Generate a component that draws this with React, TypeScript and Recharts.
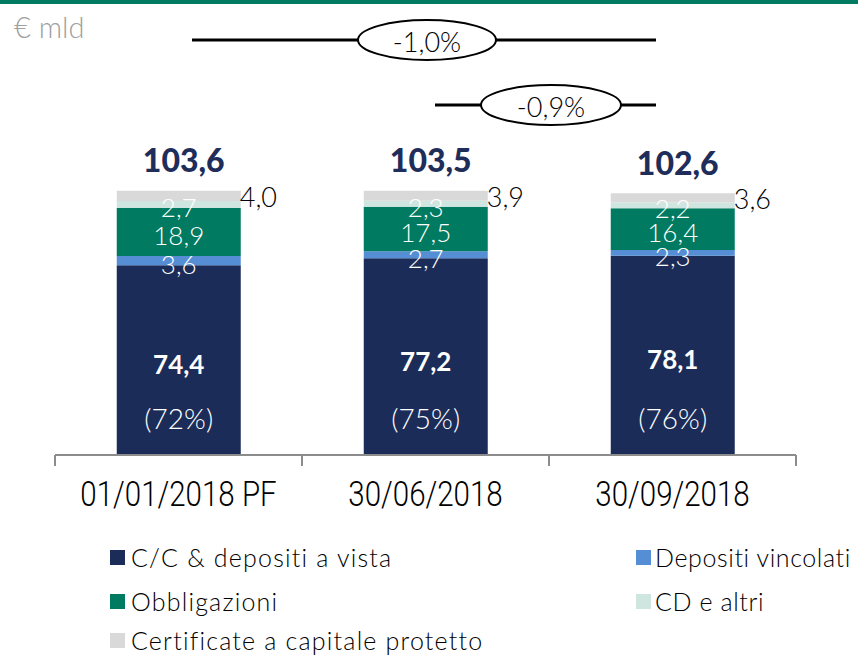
import { BarChart, Bar, XAxis, YAxis, LabelList } from 'recharts'

const categories = ['01/01/2018 PF', '30/06/2018', '30/09/2018']
const ccDepositi = [74.4, 77.2, 78.1]
const depVincolati = [3.6, 2.7, 2.3]
const obbligazioni = [18.9, 17.5, 16.4]
const cdAltri = [2.7, 2.3, 2.2]
const certificati = [4.0, 3.9, 3.6]
const totals = [103.6, 103.5, 102.6]
const ccShare = [72, 75, 76]
const growth = ['-1,0%', '-0,9%']

const COLORS = {
  cc: '#1c2c59',
  vinc: '#558ed5',
  obbl: '#007a60',
  cd: '#cfe5e0',
  cert: '#d9d9d9',
}

const FONT = 'Lato, "Noto Sans", sans-serif'

const series = [
  { key: 'cc', name: 'C/C & depositi a vista', color: COLORS.cc },
  { key: 'vinc', name: 'Depositi vincolati', color: COLORS.vinc },
  { key: 'obbl', name: 'Obbligazioni', color: COLORS.obbl },
  { key: 'cd', name: 'CD e altri', color: COLORS.cd },
  { key: 'cert', name: 'Certificate a capitale protetto', color: COLORS.cert },
]

const data = categories.map((name, i) => ({
  name,
  cc: ccDepositi[i],
  vinc: depVincolati[i],
  obbl: obbligazioni[i],
  cd: cdAltri[i],
  cert: certificati[i],
  total: totals[i],
  share: ccShare[i],
}))

const fmt = (v: number) => v.toFixed(1).replace('.', ',')

// white number centred on its segment (slightly lowered, like the original)
const inBarLabel = (props: any) => {
  const { x, y, width, height, value } = props
  return (
    <text x={x + width / 2} y={y + height / 2 + 3} textAnchor="middle" dominantBaseline="central"
      fill="#fff" fontSize={26} fontFamily={FONT} fontWeight={300}>
      {fmt(Number(value))}
    </text>
  )
}

const certLabel = (props: any) => {
  const { x, y, width, height, value } = props
  return (
    <text x={x + width - 1} y={y + height / 2 + 1} textAnchor="start" dominantBaseline="central"
      fill="#000" fontSize={27} fontFamily={FONT} fontWeight={300}>
      {fmt(Number(value))}
    </text>
  )
}

const totalLabel = (props: any) => {
  const { x, y, width, value } = props
  return (
    <text x={x + width / 2 + 5} y={y - 31} textAnchor="middle" dominantBaseline="central"
      fill="#1f2d5a" fontSize={32} fontFamily={FONT} fontWeight={900}>
      {fmt(Number(value))}
    </text>
  )
}

const ccValueLabel = (props: any) => {
  const { x, y, width, height, value } = props
  return (
    <text x={x + width / 2} y={y + height / 2 + 4} textAnchor="middle" dominantBaseline="central"
      fill="#fff" fontSize={26} fontFamily={FONT} fontWeight={700}>
      {fmt(Number(value))}
    </text>
  )
}

const ccShareLabel = (props: any) => {
  const { x, y, width, height, value } = props
  return (
    <text x={x + width / 2} y={y + height - 37} textAnchor="middle" dominantBaseline="central"
      fill="#fff" fontSize={28} fontFamily={FONT} fontWeight={300}>
      ({value}%)
    </text>
  )
}

// category label plus the separators between the categories
const AxisTick = (props: any) => {
  const { x, y, payload, index } = props
  const half = payload?.offset || 123.5
  const last = index === categories.length - 1
  return (
    <g>
      <line x1={x - half} x2={x - half} y1={y} y2={y + 11} stroke="#8c8c8c" strokeWidth={2} />
      {last && <line x1={x + half} x2={x + half} y1={y} y2={y + 11} stroke="#8c8c8c" strokeWidth={2} />}
      <text transform={`translate(${x},${y + 38}) scale(0.82,1)`} textAnchor="middle" dominantBaseline="central"
        fill="#000" fontSize={36} fontWeight={300} fontFamily='Roboto, sans-serif'>
        {payload.value}
      </text>
    </g>
  )
}

function GrowthBadge({ x1, x2, y, cx, rx, ry, label }: any) {
  return (
    <g>
      <line x1={x1} x2={x2} y1={y} y2={y} stroke="#000" strokeWidth={3} />
      <ellipse cx={cx} cy={y} rx={rx} ry={ry} fill="#fff" stroke="#000" strokeWidth={2} />
      <text x={cx} y={y + 1} textAnchor="middle" dominantBaseline="central" fontSize={27}
        fontFamily={FONT} fontWeight={300} fill="#000">
        {label}
      </text>
    </g>
  )
}

export default function App() {
  return (
    <div style={{ position: 'absolute', left: 0, top: 0, width: 858, height: 656, background: '#fff', overflow: 'hidden' }}>
      <BarChart width={858} height={656} data={data}
        margin={{ top: 149, right: 62, bottom: 141, left: 55 }} barCategoryGap="25%">
        <YAxis hide domain={[0, 120]} />
        <XAxis dataKey="name" height={60} tickLine={false} tickSize={0} tickMargin={0}
          axisLine={{ stroke: '#8c8c8c', strokeWidth: 2 }} tick={<AxisTick />} interval={0} />
        <Bar dataKey="cc" stackId="a" fill={COLORS.cc} isAnimationActive={false}>
          <LabelList dataKey="cc" content={ccValueLabel} />
          <LabelList dataKey="share" content={ccShareLabel} />
        </Bar>
        <Bar dataKey="vinc" stackId="a" fill={COLORS.vinc} isAnimationActive={false}>
          <LabelList dataKey="vinc" content={inBarLabel} />
        </Bar>
        <Bar dataKey="obbl" stackId="a" fill={COLORS.obbl} isAnimationActive={false}>
          <LabelList dataKey="obbl" content={inBarLabel} />
        </Bar>
        <Bar dataKey="cd" stackId="a" fill={COLORS.cd} isAnimationActive={false}>
          <LabelList dataKey="cd" content={inBarLabel} />
        </Bar>
        <Bar dataKey="cert" stackId="a" fill={COLORS.cert} isAnimationActive={false}>
          <LabelList dataKey="cert" content={certLabel} />
          <LabelList dataKey="total" content={totalLabel} />
        </Bar>
      </BarChart>

      {/* header: green rule, unit and growth badges */}
      <svg width={858} height={140} style={{ position: 'absolute', left: 0, top: 0 }}>
        <rect x={0} y={0} width={858} height={4} fill="#007a60" />
        <text x={14} y={38} fontSize={29} fontFamily={FONT} fontWeight={300} fill="#a0a0a0">€ mld</text>
        <GrowthBadge x1={192} x2={656} y={40} cx={427} rx={69} ry={20} label={growth[0]} />
        <GrowthBadge x1={435} x2={656} y={105} cx={551} rx={70} ry={20} label={growth[1]} />
      </svg>

      {/* legend */}
      {series.map((s, i) => {
        const col = i % 2
        const row = Math.floor(i / 2)
        return (
          <div key={s.key} style={{
            position: 'absolute', left: col === 0 ? 110 : 636, top: [557, 601, 640][row] - 15,
            height: 30, display: 'flex', alignItems: 'center', gap: col === 0 ? 6 : 4,
            fontFamily: FONT, fontSize: 25, fontWeight: 300, color: '#000', whiteSpace: 'nowrap',
            letterSpacing: col === 0 ? 1.2 : 0.6,
          }}>
            <span style={{ width: 15, height: 15, background: s.color, display: 'inline-block' }} />
            <span>{s.name}</span>
          </div>
        )
      })}
    </div>
  )
}
